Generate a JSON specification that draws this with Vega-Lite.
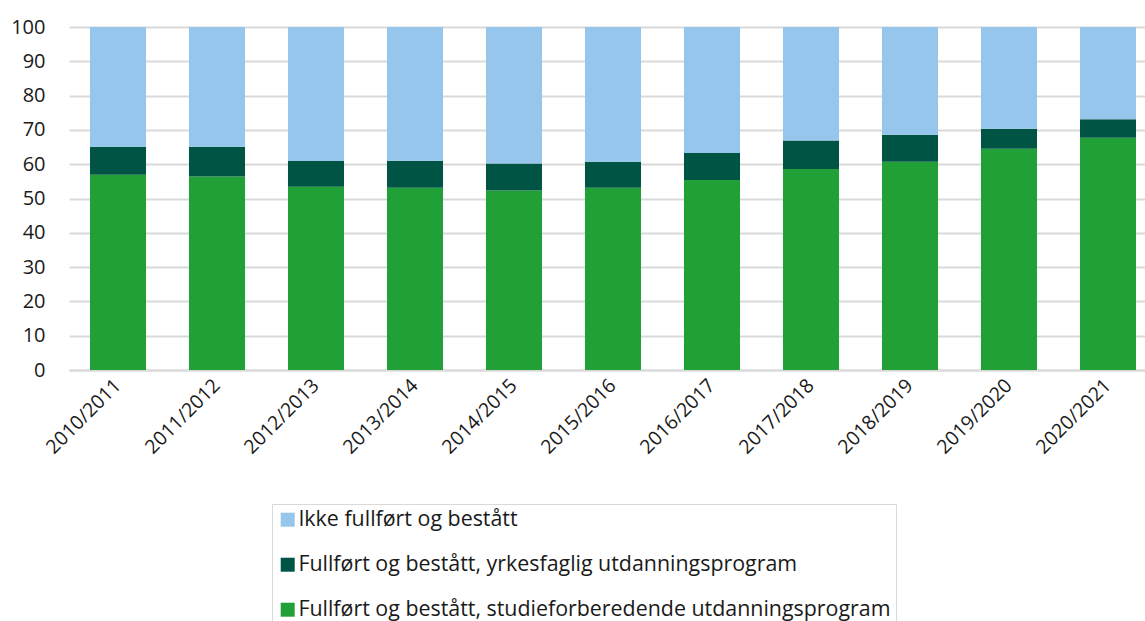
{
  "$schema": "https://vega.github.io/schema/vega-lite/v6.json",
  "width": 1088,
  "height": 343,
  "padding": {"left": 10, "top": 17, "right": 0, "bottom": 0},
  "background": "white",
  "config": {
    "view": {"stroke": null},
    "font": "Open Sans",
    "axis": {"labelFont": "Open Sans", "labelColor": "#1a1a1a"}
  },
  "data": {
    "values": [
      {"year": "2010/2011", "serie": "Fullført og bestått, studieforberedende utdanningsprogram", "ord": 1, "value": 56.9},
      {"year": "2010/2011", "serie": "Fullført og bestått, yrkesfaglig utdanningsprogram", "ord": 2, "value": 8.2},
      {"year": "2010/2011", "serie": "Ikke fullført og bestått", "ord": 3, "value": 34.9},
      {"year": "2011/2012", "serie": "Fullført og bestått, studieforberedende utdanningsprogram", "ord": 1, "value": 56.4},
      {"year": "2011/2012", "serie": "Fullført og bestått, yrkesfaglig utdanningsprogram", "ord": 2, "value": 8.7},
      {"year": "2011/2012", "serie": "Ikke fullført og bestått", "ord": 3, "value": 34.9},
      {"year": "2012/2013", "serie": "Fullført og bestått, studieforberedende utdanningsprogram", "ord": 1, "value": 53.4},
      {"year": "2012/2013", "serie": "Fullført og bestått, yrkesfaglig utdanningsprogram", "ord": 2, "value": 7.5},
      {"year": "2012/2013", "serie": "Ikke fullført og bestått", "ord": 3, "value": 39.1},
      {"year": "2013/2014", "serie": "Fullført og bestått, studieforberedende utdanningsprogram", "ord": 1, "value": 53.1},
      {"year": "2013/2014", "serie": "Fullført og bestått, yrkesfaglig utdanningsprogram", "ord": 2, "value": 7.9},
      {"year": "2013/2014", "serie": "Ikke fullført og bestått", "ord": 3, "value": 39.0},
      {"year": "2014/2015", "serie": "Fullført og bestått, studieforberedende utdanningsprogram", "ord": 1, "value": 52.3},
      {"year": "2014/2015", "serie": "Fullført og bestått, yrkesfaglig utdanningsprogram", "ord": 2, "value": 7.9},
      {"year": "2014/2015", "serie": "Ikke fullført og bestått", "ord": 3, "value": 39.8},
      {"year": "2015/2016", "serie": "Fullført og bestått, studieforberedende utdanningsprogram", "ord": 1, "value": 53.1},
      {"year": "2015/2016", "serie": "Fullført og bestått, yrkesfaglig utdanningsprogram", "ord": 2, "value": 7.6},
      {"year": "2015/2016", "serie": "Ikke fullført og bestått", "ord": 3, "value": 39.3},
      {"year": "2016/2017", "serie": "Fullført og bestått, studieforberedende utdanningsprogram", "ord": 1, "value": 55.4},
      {"year": "2016/2017", "serie": "Fullført og bestått, yrkesfaglig utdanningsprogram", "ord": 2, "value": 7.9},
      {"year": "2016/2017", "serie": "Ikke fullført og bestått", "ord": 3, "value": 36.7},
      {"year": "2017/2018", "serie": "Fullført og bestått, studieforberedende utdanningsprogram", "ord": 1, "value": 58.6},
      {"year": "2017/2018", "serie": "Fullført og bestått, yrkesfaglig utdanningsprogram", "ord": 2, "value": 8.3},
      {"year": "2017/2018", "serie": "Ikke fullført og bestått", "ord": 3, "value": 33.1},
      {"year": "2018/2019", "serie": "Fullført og bestått, studieforberedende utdanningsprogram", "ord": 1, "value": 60.7},
      {"year": "2018/2019", "serie": "Fullført og bestått, yrkesfaglig utdanningsprogram", "ord": 2, "value": 7.9},
      {"year": "2018/2019", "serie": "Ikke fullført og bestått", "ord": 3, "value": 31.4},
      {"year": "2019/2020", "serie": "Fullført og bestått, studieforberedende utdanningsprogram", "ord": 1, "value": 64.5},
      {"year": "2019/2020", "serie": "Fullført og bestått, yrkesfaglig utdanningsprogram", "ord": 2, "value": 5.8},
      {"year": "2019/2020", "serie": "Ikke fullført og bestått", "ord": 3, "value": 29.7},
      {"year": "2020/2021", "serie": "Fullført og bestått, studieforberedende utdanningsprogram", "ord": 1, "value": 67.7},
      {"year": "2020/2021", "serie": "Fullført og bestått, yrkesfaglig utdanningsprogram", "ord": 2, "value": 5.4},
      {"year": "2020/2021", "serie": "Ikke fullført og bestått", "ord": 3, "value": 26.9}
    ]
  },
  "mark": {"type": "bar"},
  "encoding": {
    "x": {
      "field": "year",
      "type": "nominal",
      "sort": null,
      "title": null,
      "scale": {"paddingInner": 0.434, "paddingOuter": 0.212},
      "axis": {
        "labelAngle": -45,
        "labelAlign": "right",
        "labelBaseline": "middle",
        "labelFontSize": 19.5,
        "ticks": false,
        "domain": true,
        "domainColor": "#d9d9d9",
        "domainWidth": 2,
        "labelPadding": 12
      }
    },
    "y": {
      "field": "value",
      "type": "quantitative",
      "stack": "zero",
      "title": null,
      "scale": {"domain": [0, 100], "nice": false},
      "axis": {
        "values": [0, 10, 20, 30, 40, 50, 60, 70, 80, 90, 100],
        "labelFontSize": 20,
        "grid": true,
        "gridColor": "#d9d9d9",
        "gridWidth": 2,
        "domain": false,
        "ticks": false,
        "labelPadding": 24
      }
    },
    "order": {"field": "ord", "type": "quantitative", "sort": "ascending"},
    "color": {
      "field": "serie",
      "type": "nominal",
      "scale": {
        "domain": ["Ikke fullført og bestått", "Fullført og bestått, yrkesfaglig utdanningsprogram", "Fullført og bestått, studieforberedende utdanningsprogram"],
        "range": ["#96c6ec", "#005443", "#21a038"]
      },
      "legend": {
        "title": null,
        "orient": "none",
        "legendX": 203,
        "legendY": 477,
        "direction": "vertical",
        "symbolType": "square",
        "symbolSize": 196,
        "symbolStrokeWidth": 0,
        "labelFontSize": 21.4,
        "labelFont": "Open Sans",
        "labelColor": "#1a1a1a",
        "labelLimit": 800,
        "labelOffset": 0,
        "rowPadding": 22,
        "strokeColor": "#d9d9d9",
        "fillColor": "white",
        "padding": 5
      }
    }
  }
}
